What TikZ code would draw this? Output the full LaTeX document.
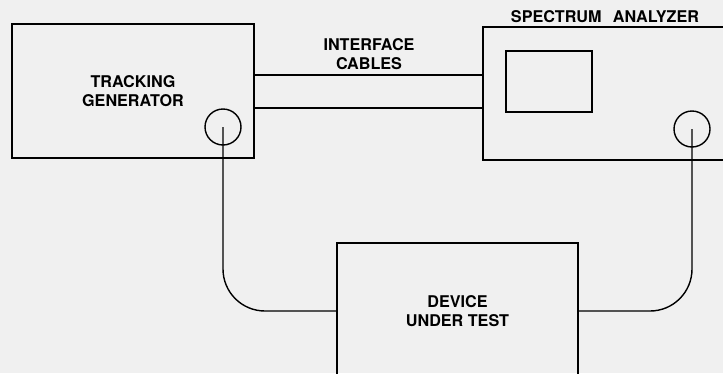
\documentclass[tikz,border=0pt]{standalone}
\usepackage{fontspec}
\setmainfont{TeX Gyre Heros}
\usetikzlibrary{positioning, calc}
\tikzset{
  box/.style={draw, line width=0.8pt, inner sep=0pt, align=center, font=\bfseries\fontsize{9.2}{10.6}\selectfont},
  port/.style={draw, circle, line width=0.8pt, minimum size=0.72cm, inner sep=0pt},
  cable/.style={draw, line width=0.8pt},
  lbl/.style={align=center, font=\bfseries\fontsize{9.2}{10.6}\selectfont, inner sep=0pt},
}

\begin{document}
\begin{tikzpicture}[x=0.02cm, y=-0.02cm]
    \fill[black!6] (0,0) rectangle (723,373);
    \clip (0,0) rectangle (723,373);
    % instruments
    \node[box, minimum width=4.84cm, minimum height=2.68cm] (tg) at (133,91) {TRACKING\\GENERATOR};
    \node[box, minimum width=5.54cm, minimum height=2.66cm] (sa) at (621.5,93.5) {};
    \node[box, minimum width=4.82cm, minimum height=2.72cm] (dut) at (457.5,311) {DEVICE\\UNDER TEST};
    \node[box, minimum width=1.72cm, minimum height=1.22cm] (screen) at (549,81.5) {};
    \node[lbl] (salbl) at (605,17) {SPECTRUM\hspace{0.7em}ANALYZER};
    \node[port] (tgport) at (223,127) {};
    \node[port] (saport) at (692,129) {};
    % interface cables
    \draw[cable] ([yshift=0.32cm]tg.east) -- ([yshift=0.32cm]tg.east -| sa.west);
    \draw[cable] ([yshift=-0.34cm]tg.east) -- ([yshift=-0.34cm]tg.east -| sa.west);
    \node[lbl] (iflbl) at (369,54) {INTERFACE\\CABLES};
    % rf cables
    \draw[cable, rounded corners=0.84cm] (tgport.center) |- (dut.west);
    \draw[cable, rounded corners=0.84cm] (saport.center) |- (dut.east);
\end{tikzpicture}
\end{document}
